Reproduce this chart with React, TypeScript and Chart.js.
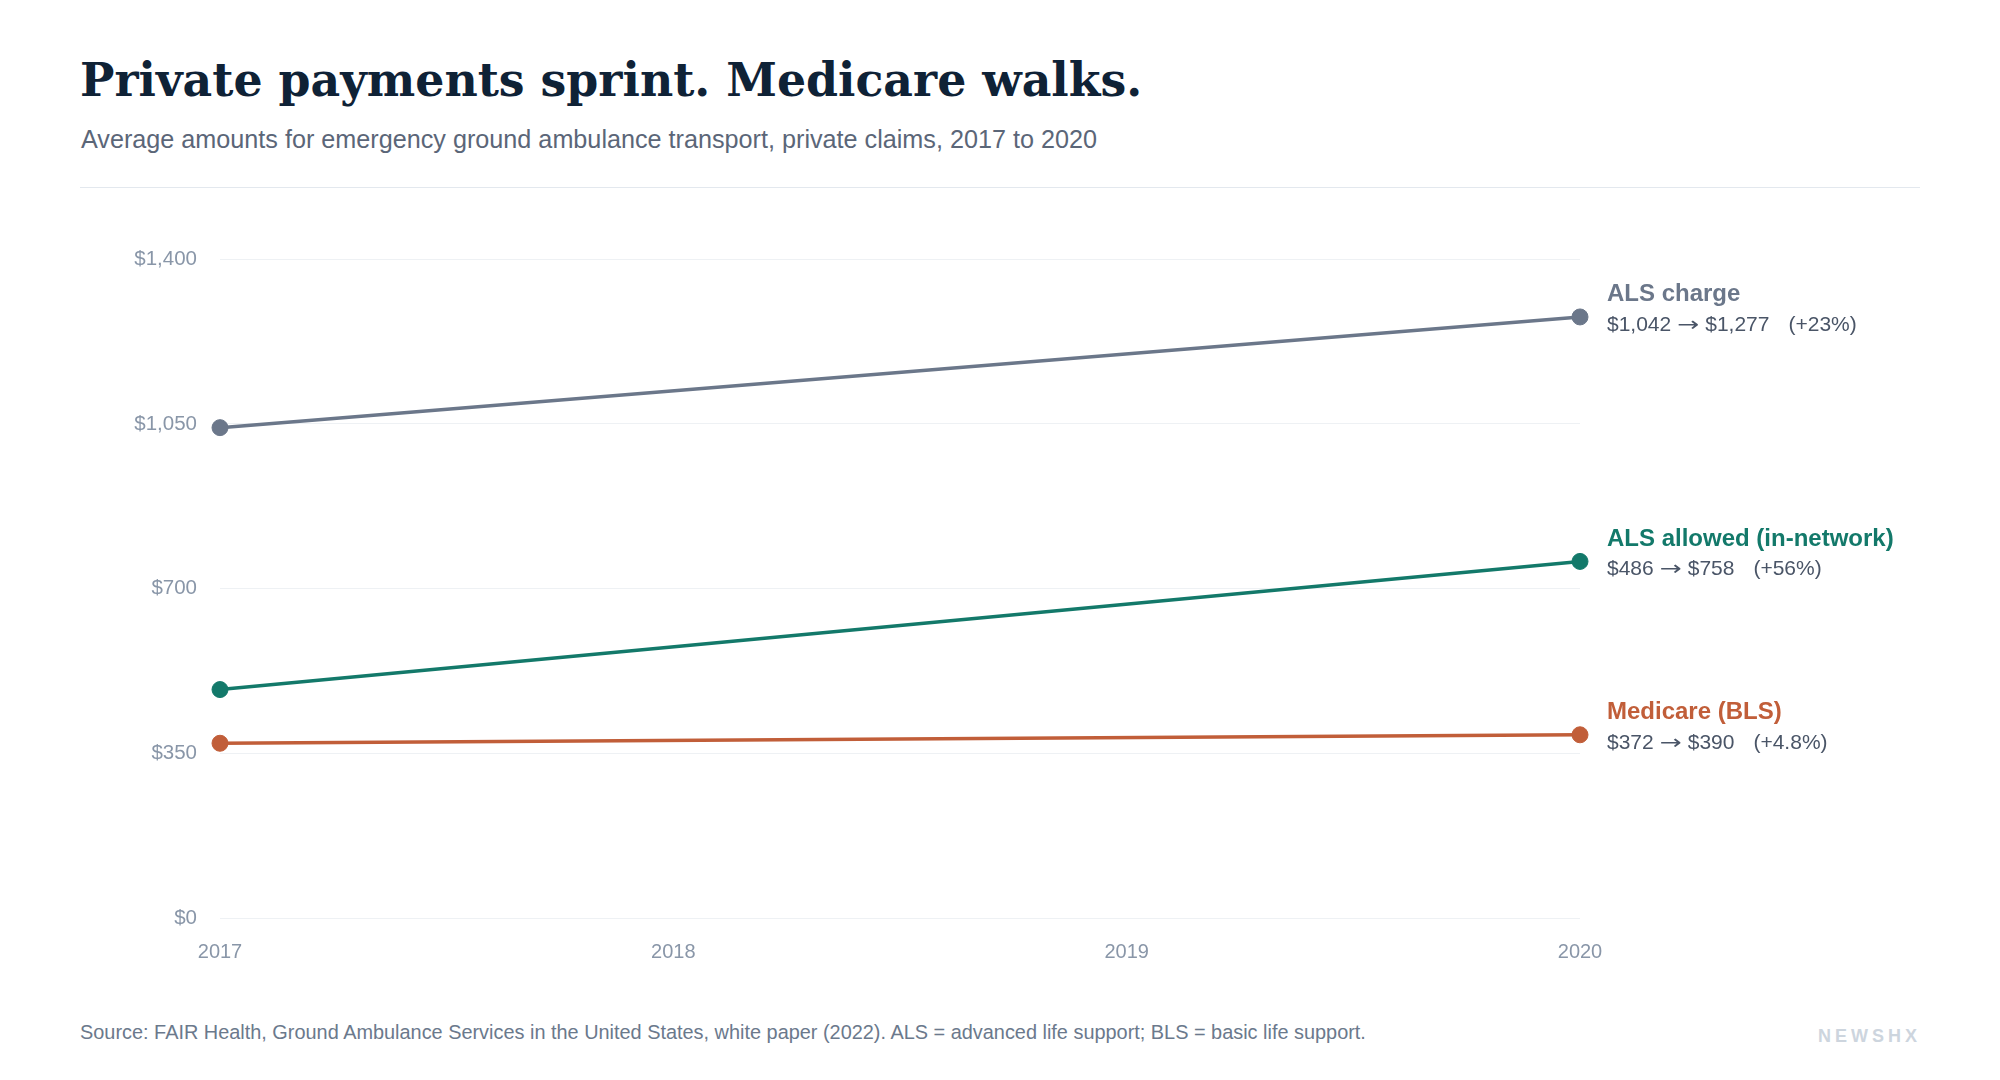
import React, { useEffect, useRef } from "react";
import { Chart, registerables } from "chart.js";

Chart.register(...registerables);

const years = [2017, 2018, 2019, 2020];
const yTicks = [0, 350, 700, 1050, 1400];
const seriesNames = ["ALS charge", "ALS allowed (in-network)", "Medicare (BLS)"];
const seriesColors = ["#6b778a", "#13796a", "#c15e39"];
const alsCharge = [1042, 1277];
const alsAllowed = [486, 758];
const medicare = [372, 390];
const pointYears = [2017, 2020];
const startLabels = ["$1,042", "$486", "$372"];
const endLabels = ["$1,277", "$758", "$390"];
const pctLabels = ["(+23%)", "(+56%)", "(+4.8%)"];

const SANS = "'Liberation Sans', Arial, Helvetica, sans-serif";

export default function App() {
  const ref = useRef<HTMLCanvasElement | null>(null);

  useEffect(() => {
    document.body.style.margin = "0";
    const canvas = ref.current;
    if (!canvas) return;
    const allSeries = [alsCharge, alsAllowed, medicare];
    const labelPlugin = {
      id: "endLabels",
      afterDatasetsDraw(chart: any) {
        const ctx = chart.ctx;
        const area = chart.chartArea;
        const ys = chart.scales.y;
        ctx.save();
        ctx.textAlign = "left";
        ctx.textBaseline = "alphabetic";
        allSeries.forEach((s, i) => {
          const py = ys.getPixelForValue(s[s.length - 1]);
          let x = area.right + 27;
          ctx.fillStyle = seriesColors[i];
          ctx.font = `bold 24px ${SANS}`;
          ctx.fillText(seriesNames[i], x, py - 15.5);
          ctx.fillStyle = "#4a5567";
          const by = py + 14;
          ctx.font = `21px ${SANS}`;
          ctx.fillText(startLabels[i], x, by);
          x += ctx.measureText(startLabels[i]).width + 6;
          ctx.font = `20px 'DejaVu Sans', sans-serif`;
          const aw = ctx.measureText("\u2192").width;
          const target = 22;
          ctx.save();
          ctx.translate(x, by);
          ctx.scale(target / aw, 1);
          ctx.fillText("\u2192", 0, 0);
          ctx.restore();
          x += target + 6;
          ctx.font = `21px ${SANS}`;
          ctx.fillText(endLabels[i], x, by);
          x += ctx.measureText(endLabels[i]).width + 19;
          ctx.fillText(pctLabels[i], x, by);
        });
        ctx.restore();
      },
    };

    const chart = new Chart(canvas, {
      type: "line",
      data: {
        datasets: allSeries.map((s, i) => ({
          label: seriesNames[i],
          data: s.map((v, j) => ({ x: pointYears[j], y: v })),
          borderColor: seriesColors[i],
          backgroundColor: seriesColors[i],
          pointBackgroundColor: seriesColors[i],
          pointBorderColor: seriesColors[i],
          pointRadius: 8,
          pointBorderWidth: 1,
          borderWidth: 3.5,
          tension: 0,
          clip: false as any,
        })),
      },
      options: {
        responsive: false,
        animation: false,
        devicePixelRatio: 1,
        layout: { padding: { left: 0, right: 340, top: 59, bottom: 31.5 } },
        plugins: { legend: { display: false }, tooltip: { enabled: false } },
        scales: {
          x: {
            type: "linear",
            min: years[0],
            max: years[years.length - 1],
            afterBuildTicks(scale: any) {
              scale.ticks = years.map((v) => ({ value: v }));
            },
            afterFit(scale: any) {
              scale.height = 50;
            },
            grid: { display: false, drawTicks: false },
            border: { display: false },
            ticks: {
              padding: 21.5,
              color: "#8996a8",
              font: { family: SANS, size: 20 },
              callback: (v: any) => String(v),
              maxRotation: 0,
            },
          },
          y: {
            min: yTicks[0],
            max: yTicks[yTicks.length - 1],
            afterBuildTicks(scale: any) {
              scale.ticks = yTicks.map((v) => ({ value: v }));
            },
            afterFit(scale: any) {
              scale.width = 140;
            },
            grid: { color: "#eef1f4", lineWidth: 1, drawTicks: false },
            border: { display: false },
            ticks: {
              padding: 23,
              color: "#8996a8",
              font: { family: SANS, size: 20.5 },
              callback: (v: any) => "$" + Number(v).toLocaleString("en-US"),
            },
          },
        },
      },
      plugins: [labelPlugin],
    } as any);
    return () => chart.destroy();
  }, []);

  return (
    <div style={{ position: "absolute", left: 0, top: 0, width: 2000, height: 1080, background: "#ffffff", overflow: "hidden" }}>
      <div
        style={{
          position: "absolute",
          left: 80,
          top: 58,
          fontFamily: "'DejaVu Serif', Georgia, serif",
          fontWeight: 700,
          fontSize: 45.8,
          lineHeight: 1,
          color: "#0f2236",
          whiteSpace: "nowrap",
        }}
      >
        Private payments sprint. Medicare walks.
      </div>
      <div
        style={{
          position: "absolute",
          left: 81,
          top: 127,
          fontFamily: SANS,
          fontSize: 25.2,
          lineHeight: 1,
          color: "#5b6678",
          whiteSpace: "nowrap",
        }}
      >
        Average amounts for emergency ground ambulance transport, private claims, 2017 to 2020
      </div>
      <div style={{ position: "absolute", left: 80, top: 187, width: 1840, height: 1, background: "#e3e8ee" }} />
      <div style={{ position: "absolute", left: 80, top: 200, width: 1840, height: 800 }}>
        <canvas ref={ref} width={1840} height={800} style={{ width: 1840, height: 800, display: "block" }} />
      </div>
      <div
        style={{
          position: "absolute",
          left: 80,
          top: 1023,
          fontFamily: SANS,
          fontSize: 19.9,
          lineHeight: 1,
          color: "#6b798c",
          whiteSpace: "nowrap",
        }}
      >
        Source: FAIR Health, Ground Ambulance Services in the United States, white paper (2022). ALS = advanced life support; BLS = basic life support.
      </div>
      <div
        style={{
          position: "absolute",
          right: 79,
          top: 1027,
          fontFamily: SANS,
          fontWeight: 700,
          fontSize: 18,
          lineHeight: 1,
          letterSpacing: 4,
          color: "#cdd5de",
          whiteSpace: "nowrap",
        }}
      >
        NEWSHX
      </div>
    </div>
  );
}
